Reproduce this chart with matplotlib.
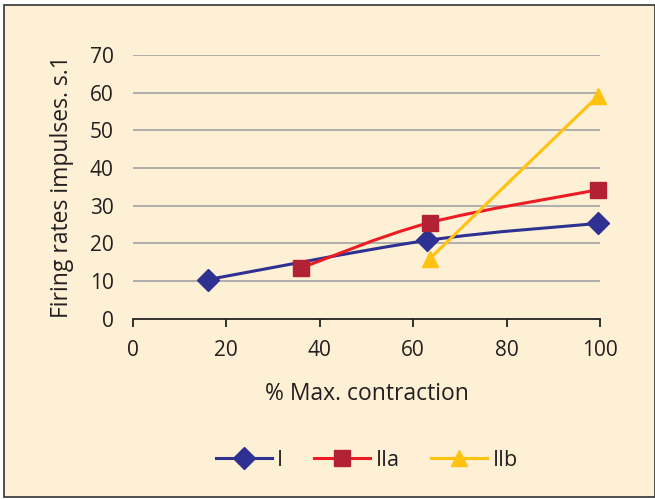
import numpy as np
import matplotlib.pyplot as plt
from matplotlib.path import Path
from matplotlib.patches import PathPatch, Rectangle
from matplotlib.lines import Line2D

plt.rcParams['font.family'] = ['Open Sans', 'DejaVu Sans']

# data
x_I = [16, 63, 99.5]
y_I = [10.4, 20.8, 25.3]
x_IIa = [36, 63.5, 99.5]
y_IIa = [13.5, 25.5, 34.2]
x_IIb = [63.5, 99.5]
y_IIb = [15.9, 59.0]

series = [
    ('I', x_I, y_I, '#2E3192', '#2E3192', 'D', 11),
    ('IIa', x_IIa, y_IIa, '#ED1C24', '#B22234', 's', 12),
    ('IIb', x_IIb, y_IIb, '#FFC20E', '#FFC20E', '^', 12),
]

bg = '#FEF0D4'


def smooth_path(xs, ys):
    # Excel-style smoothed line: cubic Bezier segments with Catmull-Rom tangents
    pts = np.column_stack([xs, ys])
    n = len(pts)
    verts = [pts[0]]
    codes = [Path.MOVETO]
    for i in range(n - 1):
        p0 = pts[i - 1] if i > 0 else pts[i]
        p1 = pts[i]
        p2 = pts[i + 1]
        p3 = pts[i + 2] if i + 2 < n else pts[i + 1]
        c1 = p1 + (p2 - p0) / 6
        c2 = p2 - (p3 - p1) / 6
        verts += [c1, c2, p2]
        codes += [Path.CURVE4] * 3
    return Path(verts, codes)


fig = plt.figure(figsize=(6.55, 4.99), dpi=100, facecolor='white')
fig.patches.append(Rectangle((0.006, 0.004), 0.994, 0.986, transform=fig.transFigure,
                             facecolor=bg, edgecolor='#333333', linewidth=1.2, zorder=-1))

ax = fig.add_axes([0.203, 0.361, 0.713, 0.529])
ax.set_facecolor('none')

for label, xs, ys, lc, mc, mk, ms in series:
    ax.add_patch(PathPatch(smooth_path(xs, ys), facecolor='none', edgecolor=lc,
                           linewidth=2.2, zorder=3, clip_on=False))
    ax.plot(xs, ys, linestyle='none', marker=mk, markersize=ms, color=mc,
            zorder=4, clip_on=False)

ax.set_xlim(0, 100)
ax.set_ylim(0, 70)
ax.set_xticks(range(0, 101, 20))
ax.set_yticks(range(0, 71, 10))
for v in range(10, 71, 10):
    ax.axhline(v, color='#A9A9A9', linewidth=1.3, zorder=1)

for s in ['top', 'right', 'left']:
    ax.spines[s].set_visible(False)
ax.spines['bottom'].set_color('#222222')
ax.spines['bottom'].set_linewidth(1.3)
ax.tick_params(axis='y', length=0, pad=14, labelsize=15, labelcolor='#231F20')
ax.tick_params(axis='x', length=6, width=1.3, color='#222222', direction='out',
               pad=9, labelsize=15, labelcolor='#231F20')

ax.set_xlabel('% Max. contraction', fontsize=16.5, color='#231F20', labelpad=15)
ax.set_ylabel('Firing rates impulses. s.1', fontsize=16.5, color='#231F20', labelpad=11)

handles = [Line2D([0], [0], color=lc, linewidth=2.2, marker=mk, markersize=ms,
                  markerfacecolor=mc, markeredgecolor=mc)
           for _, _, _, lc, mc, mk, ms in series]
labels = [s[0] for s in series]
fig.legend(handles, labels, loc='center', bbox_to_anchor=(0.56, 0.078), ncol=3,
           frameon=False, fontsize=15.5, handlelength=2.6, handletextpad=0.25,
           columnspacing=1.45, labelcolor='#231F20')

fig.savefig('out.png', dpi=100, facecolor='white')
